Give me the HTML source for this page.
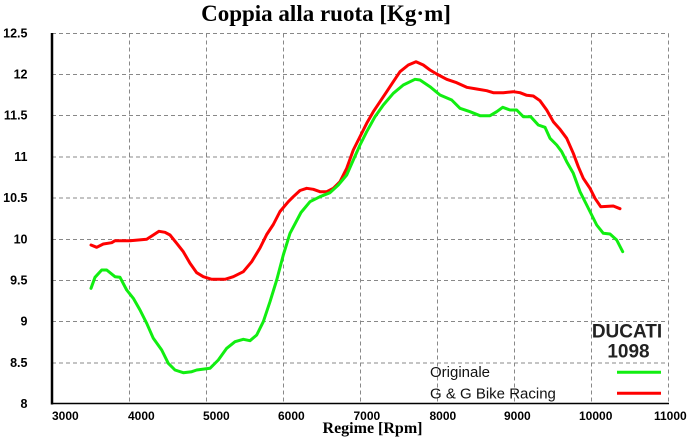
<!DOCTYPE html>
<html>
<head>
<meta charset="utf-8">
<style>
  html,body{margin:0;padding:0;background:#fff;}
  svg{display:block;}
</style>
</head>
<body>
<svg width="691" height="445" viewBox="0 0 691 445" xmlns="http://www.w3.org/2000/svg">
  <rect x="0" y="0" width="691" height="445" fill="#ffffff"/>
  <!-- title -->
  <text x="326" y="21" text-anchor="middle" font-family="Liberation Serif, serif" font-weight="bold" font-size="23" fill="#000">Coppia alla ruota [Kg·m]</text>

  <!-- grid -->
  <g stroke="#888888" stroke-width="1" stroke-dasharray="4,3" fill="none">
    <line x1="52" y1="33.5" x2="668.5" y2="33.5"/>
    <line x1="52" y1="74.5" x2="668.5" y2="74.5"/>
    <line x1="52" y1="115.5" x2="668.5" y2="115.5"/>
    <line x1="52" y1="157" x2="668.5" y2="157"/>
    <line x1="52" y1="198" x2="668.5" y2="198"/>
    <line x1="52" y1="239.5" x2="668.5" y2="239.5"/>
    <line x1="52" y1="280.5" x2="668.5" y2="280.5"/>
    <line x1="52" y1="321.5" x2="668.5" y2="321.5"/>
    <line x1="52" y1="363" x2="668.5" y2="363"/>
    <line x1="129.5" y1="33.5" x2="129.5" y2="403"/>
    <line x1="206.5" y1="33.5" x2="206.5" y2="403"/>
    <line x1="283.5" y1="33.5" x2="283.5" y2="403"/>
    <line x1="360.5" y1="33.5" x2="360.5" y2="403"/>
    <line x1="437.5" y1="33.5" x2="437.5" y2="403"/>
    <line x1="514.5" y1="33.5" x2="514.5" y2="403"/>
    <line x1="591.5" y1="33.5" x2="591.5" y2="403"/>
    <line x1="668.5" y1="33.5" x2="668.5" y2="403"/>
  </g>

  <!-- axes -->
  <line x1="52" y1="33" x2="52" y2="404.5" stroke="#000" stroke-width="2.5"/>
  <line x1="51" y1="403.5" x2="669" y2="403.5" stroke="#000" stroke-width="1.5"/>

  <!-- y labels -->
  <g font-family="Liberation Sans, sans-serif" font-weight="bold" font-size="12.5" fill="#000" text-anchor="end">
    <text x="27.5" y="37.5">12.5</text>
    <text x="27.5" y="78.5">12</text>
    <text x="27.5" y="119.5">11.5</text>
    <text x="27.5" y="161">11</text>
    <text x="27.5" y="202">10.5</text>
    <text x="27.5" y="243.5">10</text>
    <text x="27.5" y="284.5">9.5</text>
    <text x="27.5" y="325.5">9</text>
    <text x="27.5" y="367">8.5</text>
    <text x="27.5" y="408">8</text>
  </g>

  <!-- x labels -->
  <g font-family="Liberation Sans, sans-serif" font-weight="bold" font-size="12" fill="#000">
    <text x="52" y="420">3000</text>
    <text x="128" y="420">4000</text>
    <text x="203" y="420">5000</text>
    <text x="278" y="420">6000</text>
    <text x="353.5" y="420">7000</text>
    <text x="429.5" y="420">8000</text>
    <text x="504" y="420">9000</text>
    <text x="579" y="420">10000</text>
    <text x="654" y="420">11000</text>
  </g>

  <!-- x axis title -->
  <text x="372.5" y="433" text-anchor="middle" font-family="Liberation Serif, serif" font-weight="bold" font-size="16" fill="#000">Regime [Rpm]</text>

  <!-- red series -->
  <polyline fill="none" stroke="#ff0000" stroke-width="3" stroke-linejoin="round" stroke-linecap="round"
    points="91,245 96.7,247.3 103.3,244 111.7,242.7 115,240.7 130,240.7 146.7,239.3 153.3,235 159,231.3 165,232.3 170,235 176.7,243.3 183.3,251.7 190,263.3 196.7,272.7 203.3,276.7 211.7,279.3 225,279.3 233.3,276.7 243.3,271.7 251.7,261.7 260,248 266.7,234.5 273.3,224.5 280,211.5 288.3,201.7 293.3,196.7 300,190.5 306.7,188.3 313.3,189.3 320,191.7 326.7,191.7 333.3,188.3 340,181.7 346.7,168.3 353.3,150 360,136.7 366.7,123.3 373.3,111.7 380,101.7 386.7,91.7 393.3,81.7 400,71.7 408.3,65 416,61.7 423.3,65 430,70 436.7,74 446.7,79.3 456.7,82.7 466.7,87.3 476.7,89 486.7,90.7 493.3,92.7 503.3,92.7 513.3,91.7 520,92.7 526.7,95.3 533.3,96 540,100.7 546.7,110 553.3,121.7 560,129.3 566.7,138.3 573.3,153.3 578.3,166.7 583.3,178.3 590,188.3 595,198.3 600.7,206.7 613.3,206 620,208.7"/>

  <!-- green series -->
  <polyline fill="none" stroke="#11ee11" stroke-width="3" stroke-linejoin="round" stroke-linecap="round"
    points="91,288.3 95,277.3 101.7,270 106.7,270 115,276.7 120,277.3 126.7,290 133.3,298.3 140,310 146.7,323.3 153.3,338.3 161.7,350 168.3,363.3 175,370 183.3,372.7 191.7,371.7 196.7,370 210,368.3 218.3,360 226.7,348.3 235,341.7 243.3,339.3 250,340.7 256.7,335 263.3,321.7 270,301.7 276.7,280 283.3,255 290,233.3 301,212.5 310,201.7 320,196.7 330,192.7 338.3,185 346.7,175 353.3,160 360,145 366.7,131.7 375,116.7 383.3,105 393.3,93.3 403.3,85 415,79.3 420,80 430,86.7 440,95 451.7,100 460,108.3 470,111.7 480,115.7 490,115.7 496.7,111.7 502.7,107.3 510,110 516.7,110 523.3,116.7 530.7,116.7 538.3,125 545,127.3 550,138.3 556.7,145 561.7,151.7 566.7,161.7 573.3,173.3 580,191.7 586.7,205 591.7,215 596.7,225 603.3,233.3 610,234 616.7,240 622.7,251.7"/>

  <!-- brand -->
  <g font-family="Liberation Sans, sans-serif" font-weight="bold" font-size="19" fill="#222" text-anchor="middle">
    <text x="627" y="337.5">DUCATI</text>
    <text x="628.5" y="357.5">1098</text>
  </g>

  <!-- legend -->
  <g font-family="Liberation Sans, sans-serif" font-size="15" fill="#111">
    <text x="430" y="377">Originale</text>
    <text x="430" y="398.5">G &amp; G Bike Racing</text>
  </g>
  <line x1="617" y1="372.3" x2="661" y2="372.3" stroke="#11ee11" stroke-width="3"/>
  <line x1="617" y1="393.3" x2="661" y2="393.3" stroke="#ff0000" stroke-width="3"/>
</svg>
</body>
</html>
